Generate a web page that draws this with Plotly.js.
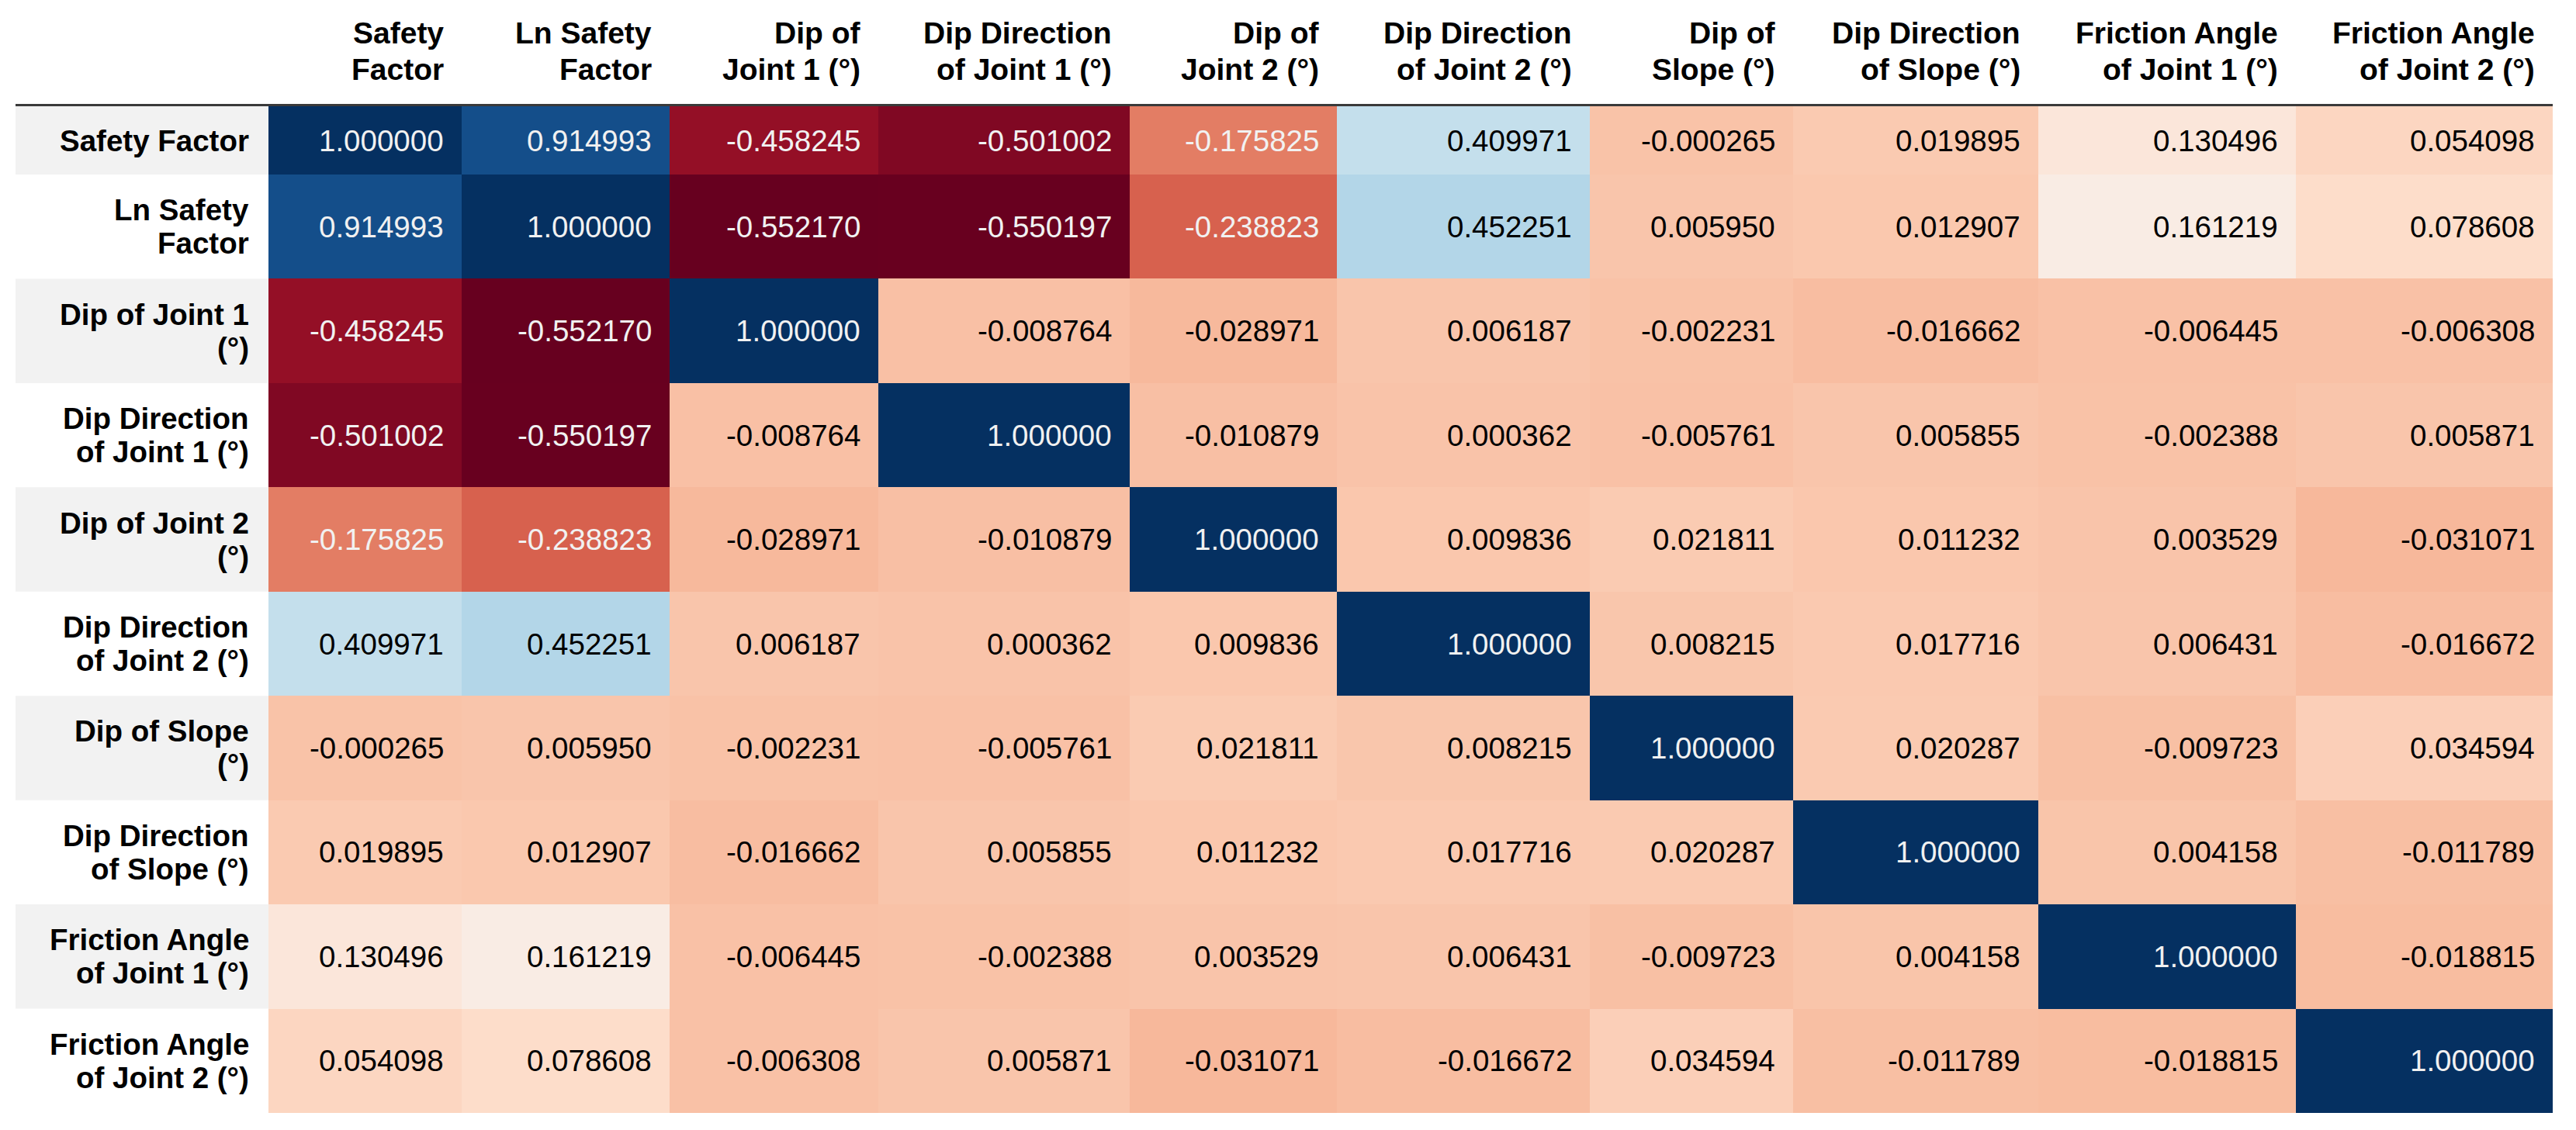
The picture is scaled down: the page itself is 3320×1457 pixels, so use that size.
<!DOCTYPE html>
<html>
<head>
<meta charset="utf-8">
<script src="https://cdn.plot.ly/plotly-3.0.1.min.js"></script>
<style>html,body{margin:0;padding:0;background:#fff;}#chart{width:3320px;height:1457px;}</style>
</head>
<body>
<div id="chart"></div>
<script>
// ---- data ----
const rowLabels = [
  "Safety Factor",
  "Ln Safety<br>Factor",
  "Dip of Joint 1<br>(°)",
  "Dip Direction<br>of Joint 1 (°)",
  "Dip of Joint 2<br>(°)",
  "Dip Direction<br>of Joint 2 (°)",
  "Dip of Slope<br>(°)",
  "Dip Direction<br>of Slope (°)",
  "Friction Angle<br>of Joint 1 (°)",
  "Friction Angle<br>of Joint 2 (°)"
];
const colLabels = [
  "Safety<br>Factor",
  "Ln Safety<br>Factor",
  "Dip of<br>Joint 1 (°)",
  "Dip Direction<br>of Joint 1 (°)",
  "Dip of<br>Joint 2 (°)",
  "Dip Direction<br>of Joint 2 (°)",
  "Dip of<br>Slope (°)",
  "Dip Direction<br>of Slope (°)",
  "Friction Angle<br>of Joint 1 (°)",
  "Friction Angle<br>of Joint 2 (°)"
];
const safetyFactor      = [1.000000, 0.914993, -0.458245, -0.501002, -0.175825, 0.409971, -0.000265, 0.019895, 0.130496, 0.054098];
const lnSafetyFactor    = [0.914993, 1.000000, -0.552170, -0.550197, -0.238823, 0.452251, 0.005950, 0.012907, 0.161219, 0.078608];
const dipJoint1         = [-0.458245, -0.552170, 1.000000, -0.008764, -0.028971, 0.006187, -0.002231, -0.016662, -0.006445, -0.006308];
const dipDirJoint1      = [-0.501002, -0.550197, -0.008764, 1.000000, -0.010879, 0.000362, -0.005761, 0.005855, -0.002388, 0.005871];
const dipJoint2         = [-0.175825, -0.238823, -0.028971, -0.010879, 1.000000, 0.009836, 0.021811, 0.011232, 0.003529, -0.031071];
const dipDirJoint2      = [0.409971, 0.452251, 0.006187, 0.000362, 0.009836, 1.000000, 0.008215, 0.017716, 0.006431, -0.016672];
const dipSlope          = [-0.000265, 0.005950, -0.002231, -0.005761, 0.021811, 0.008215, 1.000000, 0.020287, -0.009723, 0.034594];
const dipDirSlope       = [0.019895, 0.012907, -0.016662, 0.005855, 0.011232, 0.017716, 0.020287, 1.000000, 0.004158, -0.011789];
const frictionJoint1    = [0.130496, 0.161219, -0.006445, -0.002388, 0.003529, 0.006431, -0.009723, 0.004158, 1.000000, -0.018815];
const frictionJoint2    = [0.054098, 0.078608, -0.006308, 0.005871, -0.031071, -0.016672, 0.034594, -0.011789, -0.018815, 1.000000];
const corr = [safetyFactor, lnSafetyFactor, dipJoint1, dipDirJoint1, dipJoint2, dipDirJoint2, dipSlope, dipDirSlope, frictionJoint1, frictionJoint2];

// ---- layout / style ----
const colWidths = [249, 268, 269, 324, 267, 326, 262, 316, 332, 331];
const rowHeights = [88, 134.4, 134.4, 134.4, 134.4, 134.4, 134.4, 134.4, 134.4, 134.4];
const labelColWidth = 326;
const padRight = 21;
const FONT = "Liberation Sans, Arial, sans-serif";
const cellFont = 38.5, headFont = 39, labelFont = 38.5;
const labelPitch = 43;
const headLineCenters = [-94, -47]; // px relative to top of cells
const RdBu = ["#67001f","#b2182b","#d6604d","#f4a582","#fddbc7","#f7f7f7","#d1e5f0","#92c5de","#4393c3","#2166ac","#053061"];
const colorscale = RdBu.map((c, i) => [i / (RdBu.length - 1), c]);

function cumulative(arr){ const e=[0]; arr.forEach(w=>e.push(e[e.length-1]+w)); return e; }
const xEdges = cumulative(colWidths);
const yEdges = cumulative(rowHeights);
const W = xEdges[xEdges.length-1], H = yEdges[yEdges.length-1];
const px = x => x / W;          // plot-pixel -> paper x
const py = y => 1 - y / H;      // plot-pixel (from top) -> paper y

const flat = corr.flat();
const zmin = Math.min(...flat), zmax = Math.max(...flat);

function hex2rgb(h){ return [1,3,5].map(i=>parseInt(h.substr(i,2),16)); }
function colorAt(v){
  const t = (v - zmin) / (zmax - zmin);
  const n = RdBu.length - 1;
  const k = Math.min(n - 1, Math.floor(t * n));
  const f = t * n - k;
  const a = hex2rgb(RdBu[k]), b = hex2rgb(RdBu[k+1]);
  return a.map((c, i) => c + (b[i] - c) * f);
}
function lum(rgb){
  const l = rgb.map(c => { c /= 255; return c <= 0.03928 ? c/12.92 : Math.pow((c+0.055)/1.055, 2.4); });
  return 0.2126*l[0] + 0.7152*l[1] + 0.0722*l[2];
}

const annotations = [];
const shapes = [];

// cell values
corr.forEach((row, i) => {
  row.forEach((v, j) => {
    annotations.push({
      x: xEdges[j+1] - padRight, y: (yEdges[i] + yEdges[i+1]) / 2,
      xref: "x", yref: "y", xanchor: "right", yanchor: "middle",
      text: v.toFixed(6), showarrow: false,
      font: {family: FONT, size: cellFont, color: lum(colorAt(v)) < 0.408 ? "#f1f1f1" : "#000000"}
    });
  });
});

// column headers (each line placed separately)
colLabels.forEach((lab, j) => {
  const lines = lab.split("<br>");
  lines.forEach((ln, k) => {
    annotations.push({
      x: px(xEdges[j+1] - padRight), y: py(headLineCenters[headLineCenters.length - lines.length + k]),
      xref: "paper", yref: "paper", xanchor: "right", yanchor: "middle",
      text: "<b>" + ln + "</b>", showarrow: false,
      font: {family: FONT, size: headFont, color: "#000000"}
    });
  });
});

// row labels
rowLabels.forEach((lab, i) => {
  const lines = lab.split("<br>");
  const cy = (yEdges[i] + yEdges[i+1]) / 2;
  lines.forEach((ln, k) => {
    annotations.push({
      x: px(-padRight - 2), y: py(cy + (k - (lines.length - 1) / 2) * labelPitch),
      xref: "paper", yref: "paper", xanchor: "right", yanchor: "middle",
      text: "<b>" + ln + "</b>", showarrow: false,
      font: {family: FONT, size: labelFont, color: "#000000"}
    });
  });
  if (i % 2 === 0) {
    shapes.push({type: "rect", xref: "paper", yref: "paper", x0: px(-labelColWidth), x1: 0,
      y0: py(yEdges[i]), y1: py(yEdges[i+1]),
      fillcolor: "#f2f2f2", line: {width: 0}, layer: "below"});
  }
});

// header rule
shapes.push({type: "line", xref: "paper", yref: "paper", x0: px(-labelColWidth), x1: 1, y0: py(-1.5), y1: py(-1.5),
  line: {color: "#3a3a3a", width: 3}, layer: "above"});

const trace = {
  type: "heatmap",
  x: xEdges, y: yEdges, z: corr,
  colorscale: colorscale, zmin: zmin, zmax: zmax,
  showscale: false, hoverinfo: "skip", xgap: 0, ygap: 0
};

const layout = {
  width: 3320, height: 1457,
  margin: {l: 346, r: 30, t: 137, b: 22, pad: 0},
  paper_bgcolor: "#ffffff", plot_bgcolor: "#ffffff",
  xaxis: {range: [0, W], visible: false, fixedrange: true},
  yaxis: {range: [H, 0], visible: false, fixedrange: true},
  annotations: annotations, shapes: shapes,
  showlegend: false, font: {family: FONT}
};

Plotly.newPlot("chart", [trace], layout, {staticPlot: true, displayModeBar: false});
</script>
</body>
</html>
